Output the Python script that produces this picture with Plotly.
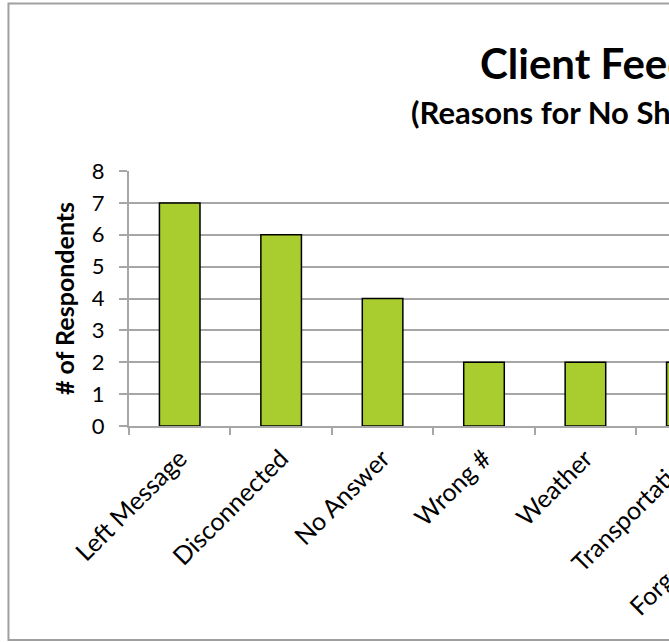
import plotly.graph_objects as go

categories = ["Left Message", "Disconnected", "No Answer", "Wrong #", "Weather",
              "Transportation", "Forgot Appointment"]
respondents = [7, 6, 4, 2, 2, 2, 1]
y_ticks = [0, 1, 2, 3, 4, 5, 6, 7, 8]
title_text = "Client Feedback"
subtitle_text = "(Reasons for No Show)"
y_title = "# of Respondents"

FONT = "Lato"
W, H = 1100, 642
L, T, B = 129, 171, 216
CAT_W = 101.4
PW = CAT_W * len(categories)
R = W - L - PW
PH = H - T - B

def px_x(px):
    return (px - L) / PW

def px_y(py):
    return (H - B - py) / PH

fig = go.Figure()
fig.add_trace(go.Bar(
    x=categories, y=respondents,
    marker=dict(color="#A9CD2F", line=dict(color="#000000", width=1.5)),
    width=0.4,
))

grid_col = "#A6A6A6"
fig.update_layout(
    width=W, height=H,
    margin=dict(l=L, r=R, t=T, b=B, pad=0),
    paper_bgcolor="white", plot_bgcolor="white",
    showlegend=False,
    font=dict(family=FONT, color="#000000"),
    xaxis=dict(
        type="category", tickson="boundaries", ticks="outside", ticklen=7,
        tickcolor=grid_col, tickwidth=2, showline=True, linecolor=grid_col, linewidth=2,
        showgrid=False, tickangle=-45, tickfont=dict(size=25, family=FONT),
        ticklabelstandoff=6,
        range=[-0.5, len(categories) - 0.5],
    ),
    yaxis=dict(
        range=[0, 8], tickvals=y_ticks, ticks="outside", ticklen=8,
        tickcolor=grid_col, tickwidth=2, showline=True, linecolor=grid_col, linewidth=2,
        showgrid=True, gridcolor=grid_col, gridwidth=2, zeroline=False,
        tickfont=dict(size=22, family=FONT), ticklabelstandoff=10,
        title=dict(text="<b>" + y_title + "</b>", font=dict(size=25, family=FONT), standoff=10),
    ),
    annotations=[
        dict(text="<b>" + title_text + "</b>", xref="paper", yref="paper",
             x=px_x(478), y=px_y(63), xanchor="left", yanchor="middle", showarrow=False,
             font=dict(size=42, family=FONT)),
        dict(text="<b>" + subtitle_text + "</b>", xref="paper", yref="paper",
             x=px_x(409), y=px_y(112), xanchor="left", yanchor="middle", showarrow=False,
             font=dict(size=31, family=FONT)),
    ],
    shapes=[
        dict(type="rect", xref="paper", yref="paper",
             x0=px_x(8.5), x1=px_x(W - 8), y0=px_y(640), y1=px_y(3.5),
             line=dict(color="#A0A0A0", width=2), fillcolor="rgba(0,0,0,0)", layer="below"),
    ],
)

post = """
document.documentElement.style.overflow='hidden';
document.body.style.overflow='hidden';
document.body.style.margin='0';
"""
fig.write_html("out.html", post_script=post, config={"displayModeBar": False})
